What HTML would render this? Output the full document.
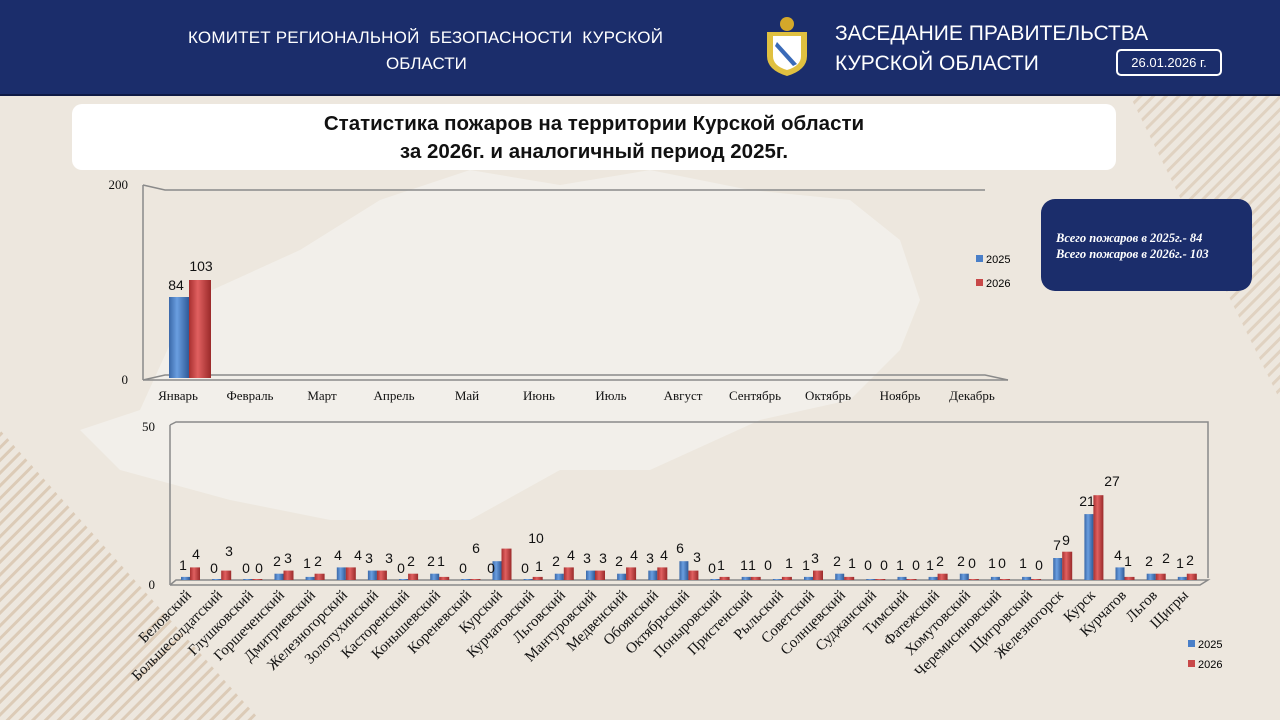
<!DOCTYPE html>
<html><head><meta charset="utf-8"><style>
body{margin:0;width:1280px;height:720px;overflow:hidden;background:#ede7de;font-family:"Liberation Sans",sans-serif}
#hdr{position:absolute;left:0;top:0;width:1280px;height:94px;background:#1b2d6b;border-bottom:2px solid #0f1a44}
.ht{position:absolute;color:#fff;white-space:nowrap}
#tbox{position:absolute;left:72px;top:104px;width:1044px;height:66px;background:#fff;border-radius:10px;text-align:center;font-weight:bold;font-size:20.5px;line-height:28px;padding-top:6px;box-sizing:border-box;color:#111}
#info{position:absolute;left:1041px;top:199px;width:211px;height:92px;background:#1b2d6b;border-radius:14px;color:#fff;font-family:"Liberation Serif",serif;font-style:italic;font-weight:bold;font-size:12.5px;line-height:16px;padding:31px 0 0 15px;box-sizing:border-box}
svg{position:absolute;left:0;top:0}
</style></head><body>
<svg width="1280" height="720">
<defs>
<pattern id="st" width="9" height="9" patternUnits="userSpaceOnUse" patternTransform="rotate(45)"><rect width="9" height="9" fill="#ede7de"/><rect width="3" height="9" fill="#d8c4ad"/></pattern>
<linearGradient id="gb" x1="0" x2="1"><stop offset="0" stop-color="#3a68a8"/><stop offset=".4" stop-color="#6a9ee0"/><stop offset="1" stop-color="#2f5a98"/></linearGradient>
<linearGradient id="gr" x1="0" x2="1"><stop offset="0" stop-color="#a83030"/><stop offset=".4" stop-color="#e06060"/><stop offset="1" stop-color="#9a2a2a"/></linearGradient>
</defs>
<polygon points="0,430 0,720 260,720" fill="url(#st)" opacity=".8"/>
<polygon points="1130,96 1280,96 1280,400" fill="url(#st)" opacity=".6"/>
<path d="M80,430 L140,410 L190,300 L300,250 L380,200 L470,170 L560,185 L650,170 L750,190 L850,200 L900,240 L920,300 L900,350 L850,400 L760,420 L650,470 L560,470 L470,520 L330,520 L230,500 L120,470 Z" fill="#f3f1ec" opacity=".8"/>
<g stroke="#8a8a8a" stroke-width="1.5" fill="none">
<polyline points="143,185 165,190 985,190"/>
<line x1="143" y1="185" x2="143" y2="380"/>
<polyline points="143,380 165,375 985,375 1008,380"/>
<line x1="143" y1="380" x2="1008" y2="380"/>
</g>
<g font-family="Liberation Serif,serif" font-size="13" fill="#111">
<text x="128" y="189" text-anchor="end">200</text><text x="128" y="384" text-anchor="end">0</text>
<g text-anchor="middle">
<text x="178" y="400">Январь</text><text x="250" y="400">Февраль</text><text x="322" y="400">Март</text><text x="394" y="400">Апрель</text><text x="467" y="400">Май</text><text x="539" y="400">Июнь</text><text x="611" y="400">Июль</text><text x="683" y="400">Август</text><text x="755" y="400">Сентябрь</text><text x="828" y="400">Октябрь</text><text x="900" y="400">Ноябрь</text><text x="972" y="400">Декабрь</text>
</g></g>
<rect x="169" y="297" width="20" height="81" fill="url(#gb)"/>
<rect x="189" y="280" width="22" height="98" fill="url(#gr)"/>
<g font-size="14" fill="#111" text-anchor="middle"><text x="176" y="290">84</text><text x="201" y="271">103</text></g>
<rect x="976" y="255" width="7" height="7" fill="#4a7fc8"/><text x="986" y="263" font-size="11">2025</text>
<rect x="976" y="279" width="7" height="7" fill="#c84848"/><text x="986" y="287" font-size="11">2026</text>
<g stroke="#8a8a8a" stroke-width="1.5" fill="none">
<polyline points="170,425 176,422 1208,422 1208,578"/>
<line x1="170" y1="425" x2="170" y2="585"/>
<polyline points="170,585 176,580 1208,580 1200,585 170,585"/>
</g>
<g font-family="Liberation Serif,serif" font-size="13" fill="#111"><text x="155" y="431" text-anchor="end">50</text><text x="155" y="589" text-anchor="end">0</text></g>
<g id="bars">
<g transform="translate(190,0)"><rect x="-9" y="576.9" width="9" height="3.1" fill="url(#gb)"/><rect x="0" y="567.4" width="10" height="12.6" fill="url(#gr)"/></g>
<g transform="translate(221.2,0)"><rect x="-9" y="579" width="9" height="1" fill="url(#gb)"/><rect x="0" y="570.6" width="10" height="9.4" fill="url(#gr)"/></g>
<g transform="translate(252.3,0)"><rect x="-9" y="579" width="9" height="1" fill="url(#gb)"/><rect x="0" y="579" width="10" height="1" fill="url(#gr)"/></g>
<g transform="translate(283.5,0)"><rect x="-9" y="573.7" width="9" height="6.3" fill="url(#gb)"/><rect x="0" y="570.6" width="10" height="9.4" fill="url(#gr)"/></g>
<g transform="translate(314.6,0)"><rect x="-9" y="576.9" width="9" height="3.1" fill="url(#gb)"/><rect x="0" y="573.7" width="10" height="6.3" fill="url(#gr)"/></g>
<g transform="translate(345.8,0)"><rect x="-9" y="567.4" width="9" height="12.6" fill="url(#gb)"/><rect x="0" y="567.4" width="10" height="12.6" fill="url(#gr)"/></g>
<g transform="translate(376.9,0)"><rect x="-9" y="570.6" width="9" height="9.4" fill="url(#gb)"/><rect x="0" y="570.6" width="10" height="9.4" fill="url(#gr)"/></g>
<g transform="translate(408.1,0)"><rect x="-9" y="579" width="9" height="1" fill="url(#gb)"/><rect x="0" y="573.7" width="10" height="6.3" fill="url(#gr)"/></g>
<g transform="translate(439.2,0)"><rect x="-9" y="573.7" width="9" height="6.3" fill="url(#gb)"/><rect x="0" y="576.9" width="10" height="3.1" fill="url(#gr)"/></g>
<g transform="translate(470.4,0)"><rect x="-9" y="579" width="9" height="1" fill="url(#gb)"/><rect x="0" y="579" width="10" height="1" fill="url(#gr)"/></g>
<g transform="translate(501.5,0)"><rect x="-9" y="561.2" width="9" height="18.8" fill="url(#gb)"/><rect x="0" y="548.6" width="10" height="31.4" fill="url(#gr)"/></g>
<g transform="translate(532.7,0)"><rect x="-9" y="579" width="9" height="1" fill="url(#gb)"/><rect x="0" y="576.9" width="10" height="3.1" fill="url(#gr)"/></g>
<g transform="translate(563.8,0)"><rect x="-9" y="573.7" width="9" height="6.3" fill="url(#gb)"/><rect x="0" y="567.4" width="10" height="12.6" fill="url(#gr)"/></g>
<g transform="translate(595,0)"><rect x="-9" y="570.6" width="9" height="9.4" fill="url(#gb)"/><rect x="0" y="570.6" width="10" height="9.4" fill="url(#gr)"/></g>
<g transform="translate(626.1,0)"><rect x="-9" y="573.7" width="9" height="6.3" fill="url(#gb)"/><rect x="0" y="567.4" width="10" height="12.6" fill="url(#gr)"/></g>
<g transform="translate(657.3,0)"><rect x="-9" y="570.6" width="9" height="9.4" fill="url(#gb)"/><rect x="0" y="567.4" width="10" height="12.6" fill="url(#gr)"/></g>
<g transform="translate(688.4,0)"><rect x="-9" y="561.2" width="9" height="18.8" fill="url(#gb)"/><rect x="0" y="570.6" width="10" height="9.4" fill="url(#gr)"/></g>
<g transform="translate(719.6,0)"><rect x="-9" y="579" width="9" height="1" fill="url(#gb)"/><rect x="0" y="576.9" width="10" height="3.1" fill="url(#gr)"/></g>
<g transform="translate(750.7,0)"><rect x="-9" y="576.9" width="9" height="3.1" fill="url(#gb)"/><rect x="0" y="576.9" width="10" height="3.1" fill="url(#gr)"/></g>
<g transform="translate(781.9,0)"><rect x="-9" y="579" width="9" height="1" fill="url(#gb)"/><rect x="0" y="576.9" width="10" height="3.1" fill="url(#gr)"/></g>
<g transform="translate(813,0)"><rect x="-9" y="576.9" width="9" height="3.1" fill="url(#gb)"/><rect x="0" y="570.6" width="10" height="9.4" fill="url(#gr)"/></g>
<g transform="translate(844.2,0)"><rect x="-9" y="573.7" width="9" height="6.3" fill="url(#gb)"/><rect x="0" y="576.9" width="10" height="3.1" fill="url(#gr)"/></g>
<g transform="translate(875.3,0)"><rect x="-9" y="579" width="9" height="1" fill="url(#gb)"/><rect x="0" y="579" width="10" height="1" fill="url(#gr)"/></g>
<g transform="translate(906.5,0)"><rect x="-9" y="576.9" width="9" height="3.1" fill="url(#gb)"/><rect x="0" y="579" width="10" height="1" fill="url(#gr)"/></g>
<g transform="translate(937.6,0)"><rect x="-9" y="576.9" width="9" height="3.1" fill="url(#gb)"/><rect x="0" y="573.7" width="10" height="6.3" fill="url(#gr)"/></g>
<g transform="translate(968.8,0)"><rect x="-9" y="573.7" width="9" height="6.3" fill="url(#gb)"/><rect x="0" y="579" width="10" height="1" fill="url(#gr)"/></g>
<g transform="translate(999.9,0)"><rect x="-9" y="576.9" width="9" height="3.1" fill="url(#gb)"/><rect x="0" y="579" width="10" height="1" fill="url(#gr)"/></g>
<g transform="translate(1031.1,0)"><rect x="-9" y="576.9" width="9" height="3.1" fill="url(#gb)"/><rect x="0" y="579" width="10" height="1" fill="url(#gr)"/></g>
<g transform="translate(1062.2,0)"><rect x="-9" y="558" width="9" height="22" fill="url(#gb)"/><rect x="0" y="551.7" width="10" height="28.3" fill="url(#gr)"/></g>
<g transform="translate(1093.4,0)"><rect x="-9" y="514.1" width="9" height="65.9" fill="url(#gb)"/><rect x="0" y="495.2" width="10" height="84.8" fill="url(#gr)"/></g>
<g transform="translate(1124.5,0)"><rect x="-9" y="567.4" width="9" height="12.6" fill="url(#gb)"/><rect x="0" y="576.9" width="10" height="3.1" fill="url(#gr)"/></g>
<g transform="translate(1155.7,0)"><rect x="-9" y="573.7" width="9" height="6.3" fill="url(#gb)"/><rect x="0" y="573.7" width="10" height="6.3" fill="url(#gr)"/></g>
<g transform="translate(1186.8,0)"><rect x="-9" y="576.9" width="9" height="3.1" fill="url(#gb)"/><rect x="0" y="573.7" width="10" height="6.3" fill="url(#gr)"/></g>
</g>
<g font-size="14" fill="#111" text-anchor="middle">
<text x="183" y="570">1</text><text x="196" y="559">4</text>
<text x="214" y="573">0</text><text x="229" y="556">3</text>
<text x="246" y="573">0</text><text x="259" y="573">0</text>
<text x="277" y="566">2</text><text x="288" y="563">3</text>
<text x="307" y="568">1</text><text x="318" y="566">2</text>
<text x="338" y="560">4</text><text x="358" y="560">4</text>
<text x="369" y="563">3</text><text x="389" y="563">3</text>
<text x="401" y="573">0</text><text x="411" y="566">2</text>
<text x="431" y="566">2</text><text x="441" y="566">1</text>
<text x="463" y="573">0</text><text x="476" y="553">6</text><text x="491" y="573">0</text>
<text x="536" y="543">10</text>
<text x="525" y="573">0</text><text x="539" y="571">1</text>
<text x="556" y="566">2</text><text x="571" y="560">4</text>
<text x="587" y="563">3</text><text x="603" y="563">3</text>
<text x="619" y="566">2</text><text x="634" y="560">4</text>
<text x="650" y="563">3</text><text x="664" y="560">4</text>
<text x="680" y="553">6</text><text x="697" y="562">3</text>
<text x="712" y="573">0</text><text x="721" y="570">1</text>
<text x="744" y="570">1</text><text x="752" y="570">1</text>
<text x="768" y="570">0</text><text x="789" y="568">1</text>
<text x="806" y="570">1</text><text x="815" y="563">3</text>
<text x="837" y="566">2</text><text x="852" y="568">1</text>
<text x="868" y="570">0</text><text x="884" y="570">0</text>
<text x="900" y="570">1</text><text x="916" y="570">0</text>
<text x="930" y="570">1</text><text x="940" y="566">2</text>
<text x="961" y="566">2</text><text x="972" y="568">0</text>
<text x="992" y="568">1</text><text x="1002" y="568">0</text>
<text x="1023" y="568">1</text><text x="1039" y="570">0</text>
<text x="1057" y="550">7</text><text x="1066" y="545">9</text>
<text x="1087" y="506">21</text><text x="1112" y="486">27</text>
<text x="1118" y="560">4</text><text x="1128" y="566">1</text>
<text x="1149" y="566">2</text><text x="1166" y="563">2</text>
<text x="1180" y="568">1</text><text x="1190" y="565">2</text>
</g>
<g font-family="Liberation Serif,serif" font-size="15" fill="#111" text-anchor="end">
<text transform="translate(192,596) rotate(-45)">Беловский</text>
<text transform="translate(223,596) rotate(-45)">Большесолдатский</text>
<text transform="translate(254,596) rotate(-45)">Глушковский</text>
<text transform="translate(285,596) rotate(-45)">Горшеченский</text>
<text transform="translate(316,596) rotate(-45)">Дмитриевский</text>
<text transform="translate(348,596) rotate(-45)">Железногорский</text>
<text transform="translate(379,596) rotate(-45)">Золотухинский</text>
<text transform="translate(410,596) rotate(-45)">Касторенский</text>
<text transform="translate(441,596) rotate(-45)">Конышевский</text>
<text transform="translate(472,596) rotate(-45)">Кореневский</text>
<text transform="translate(503,596) rotate(-45)">Курский</text>
<text transform="translate(535,596) rotate(-45)">Курчатовский</text>
<text transform="translate(566,596) rotate(-45)">Льговский</text>
<text transform="translate(597,596) rotate(-45)">Мантуровский</text>
<text transform="translate(628,596) rotate(-45)">Медвенский</text>
<text transform="translate(659,596) rotate(-45)">Обоянский</text>
<text transform="translate(690,596) rotate(-45)">Октябрьский</text>
<text transform="translate(722,596) rotate(-45)">Поныровский</text>
<text transform="translate(753,596) rotate(-45)">Пристенский</text>
<text transform="translate(784,596) rotate(-45)">Рыльский</text>
<text transform="translate(815,596) rotate(-45)">Советский</text>
<text transform="translate(846,596) rotate(-45)">Солнцевский</text>
<text transform="translate(877,596) rotate(-45)">Суджанский</text>
<text transform="translate(909,596) rotate(-45)">Тимский</text>
<text transform="translate(940,596) rotate(-45)">Фатежский</text>
<text transform="translate(971,596) rotate(-45)">Хомутовский</text>
<text transform="translate(1002,596) rotate(-45)">Черемисиновский</text>
<text transform="translate(1033,596) rotate(-45)">Щигровский</text>
<text transform="translate(1064,596) rotate(-45)">Железногорск</text>
<text transform="translate(1096,596) rotate(-45)">Курск</text>
<text transform="translate(1127,596) rotate(-45)">Курчатов</text>
<text transform="translate(1158,596) rotate(-45)">Льгов</text>
<text transform="translate(1189,596) rotate(-45)">Щигры</text>
</g>
<rect x="1188" y="640" width="7" height="7" fill="#4a7fc8"/><text x="1198" y="648" font-size="11">2025</text>
<rect x="1188" y="660" width="7" height="7" fill="#c84848"/><text x="1198" y="668" font-size="11">2026</text>
</svg>
<div id="hdr">
<div class="ht" style="left:188px;top:28px;font-size:17px;letter-spacing:0.2px">КОМИТЕТ РЕГИОНАЛЬНОЙ&nbsp; БЕЗОПАСНОСТИ&nbsp; КУРСКОЙ</div>
<div class="ht" style="left:386px;top:54px;font-size:17px">ОБЛАСТИ</div>
<svg width="60" height="70" style="left:757px;top:12px">
<path d="M10,20 L10,44 Q10,58 30,64 Q50,58 50,44 L50,20 Z" fill="#e0c040"/>
<path d="M16,24 L16,44 Q16,54 30,58 Q44,54 44,44 L44,24 Z" fill="#fff"/>
<path d="M20,30 L40,52 L36,54 L18,34 Z" fill="#3a6ab8"/>
<circle cx="30" cy="12" r="7" fill="#d4a82a"/>
</svg>
<div class="ht" style="left:835px;top:22px;font-size:21px">ЗАСЕДАНИЕ ПРАВИТЕЛЬСТВА</div>
<div class="ht" style="left:835px;top:52px;font-size:21px">КУРСКОЙ ОБЛАСТИ</div>
<div class="ht" style="left:1116px;top:49px;width:106px;height:27px;border:2px solid #fff;border-radius:5px;box-sizing:border-box;font-size:13px;line-height:23px;text-align:center">26.01.2026 г.</div>
</div>
<div id="tbox">Статистика пожаров на территории Курской области<br>за 2026г. и аналогичный период 2025г.</div>
<div id="info">Всего пожаров в 2025г.- 84<br>Всего пожаров в 2026г.- 103</div>
</body></html>
